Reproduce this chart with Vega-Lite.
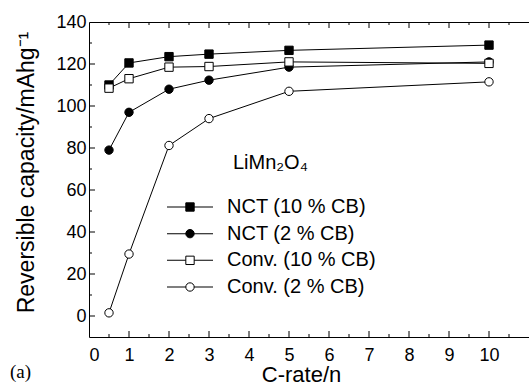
{
  "$schema": "https://vega.github.io/schema/vega-lite/v6.json",
  "width": 440,
  "height": 315,
  "autosize": "none",
  "padding": {"left": 89, "top": 22, "right": 0, "bottom": 47},
  "background": "white",
  "title": {"text": "(a)", "orient": "bottom", "anchor": "start", "frame": "group", "font": "Liberation Serif", "fontSize": 19, "fontWeight": "normal", "color": "#000", "dx": -79, "offset": -22},
  "config": {
    "font": "Liberation Sans",
    "view": {"stroke": "#000", "strokeWidth": 1},
    "axis": {"grid": false, "domain": false, "ticks": false, "labelColor": "#000", "titleColor": "#000", "labelFont": "Liberation Sans", "titleFont": "Liberation Sans", "labelFontSize": 18, "titleFontSize": 22, "titleFontWeight": "normal"}
  },
  "datasets": {
    "xticks": [
      {"v": 1, "kind": "major"}, {"v": 2, "kind": "major"}, {"v": 3, "kind": "major"}, {"v": 4, "kind": "major"}, {"v": 5, "kind": "major"},
      {"v": 6, "kind": "major"}, {"v": 7, "kind": "major"}, {"v": 8, "kind": "major"}, {"v": 9, "kind": "major"}, {"v": 10, "kind": "major"},
      {"v": 0.5, "kind": "minor"}, {"v": 1.5, "kind": "minor"}, {"v": 2.5, "kind": "minor"}, {"v": 3.5, "kind": "minor"}, {"v": 4.5, "kind": "minor"},
      {"v": 5.5, "kind": "minor"}, {"v": 6.5, "kind": "minor"}, {"v": 7.5, "kind": "minor"}, {"v": 8.5, "kind": "minor"}, {"v": 9.5, "kind": "minor"}, {"v": 10.5, "kind": "minor"}
    ],
    "yticks": [
      {"v": 0, "kind": "major"}, {"v": 20, "kind": "major"}, {"v": 40, "kind": "major"}, {"v": 60, "kind": "major"},
      {"v": 80, "kind": "major"}, {"v": 100, "kind": "major"}, {"v": 120, "kind": "major"},
      {"v": 10, "kind": "minor"}, {"v": 30, "kind": "minor"}, {"v": 50, "kind": "minor"}, {"v": 70, "kind": "minor"},
      {"v": 90, "kind": "minor"}, {"v": 110, "kind": "minor"}, {"v": 130, "kind": "minor"}
    ]
  },
  "data": {"values": [
    {"series": "NCT (10 % CB)", "rate": 0.5, "capacity": 110},
    {"series": "NCT (10 % CB)", "rate": 1, "capacity": 120.5},
    {"series": "NCT (10 % CB)", "rate": 2, "capacity": 123.5},
    {"series": "NCT (10 % CB)", "rate": 3, "capacity": 124.7},
    {"series": "NCT (10 % CB)", "rate": 5, "capacity": 126.5},
    {"series": "NCT (10 % CB)", "rate": 10, "capacity": 129},
    {"series": "NCT (2 % CB)", "rate": 0.5, "capacity": 79},
    {"series": "NCT (2 % CB)", "rate": 1, "capacity": 97},
    {"series": "NCT (2 % CB)", "rate": 2, "capacity": 108},
    {"series": "NCT (2 % CB)", "rate": 3, "capacity": 112.3},
    {"series": "NCT (2 % CB)", "rate": 5, "capacity": 118.5},
    {"series": "NCT (2 % CB)", "rate": 10, "capacity": 121},
    {"series": "Conv. (10 % CB)", "rate": 0.5, "capacity": 108.5},
    {"series": "Conv. (10 % CB)", "rate": 1, "capacity": 113},
    {"series": "Conv. (10 % CB)", "rate": 2, "capacity": 118.5},
    {"series": "Conv. (10 % CB)", "rate": 3, "capacity": 118.8},
    {"series": "Conv. (10 % CB)", "rate": 5, "capacity": 121},
    {"series": "Conv. (10 % CB)", "rate": 10, "capacity": 120.3},
    {"series": "Conv. (2 % CB)", "rate": 0.5, "capacity": 1.5},
    {"series": "Conv. (2 % CB)", "rate": 1, "capacity": 29.5},
    {"series": "Conv. (2 % CB)", "rate": 2, "capacity": 81.2},
    {"series": "Conv. (2 % CB)", "rate": 3, "capacity": 94},
    {"series": "Conv. (2 % CB)", "rate": 5, "capacity": 107},
    {"series": "Conv. (2 % CB)", "rate": 10, "capacity": 111.5}
  ]},
  "layer": [
    {
      "mark": {"type": "line", "stroke": "#000", "strokeWidth": 1},
      "encoding": {
        "x": {"field": "rate", "type": "quantitative", "scale": {"domain": [0, 11], "nice": false, "zero": false},
              "axis": {"orient": "bottom", "values": [0,1,2,3,4,5,6,7,8,9,10], "labelPadding": 9, "title": "C-rate/n", "titleX": 212, "titleY": 44, "titleBaseline": "alphabetic", "titleAlign": "center", "titleFontSize": 22}},
        "y": {"field": "capacity", "type": "quantitative", "scale": {"domain": [-10, 140], "nice": false, "zero": false},
              "axis": {"orient": "left", "values": [0,20,40,60,80,100,120,140], "labelPadding": 3, "title": "Reversible capacity/mAhg⁻¹", "titleX": -63, "titleY": 150, "titleAngle": -90, "titleAlign": "center", "titleBaseline": "middle", "titleFontSize": 23}},
        "detail": {"field": "series"}
      }
    },
    {
      "mark": {"type": "point", "filled": true, "size": 70, "stroke": "#000", "strokeWidth": 1, "opacity": 1},
      "encoding": {
        "x": {"field": "rate", "type": "quantitative", "axis": null},
        "y": {"field": "capacity", "type": "quantitative", "scale": {"domain": [-10, 140], "nice": false, "zero": false}, "axis": null},
        "shape": {"field": "series", "type": "nominal", "scale": {"domain": ["NCT (10 % CB)", "NCT (2 % CB)", "Conv. (10 % CB)", "Conv. (2 % CB)"], "range": ["square", "circle", "square", "circle"]}, "legend": null},
        "fill": {"field": "series", "type": "nominal", "scale": {"domain": ["NCT (10 % CB)", "NCT (2 % CB)", "Conv. (10 % CB)", "Conv. (2 % CB)"], "range": ["#000", "#000", "#fff", "#fff"]}, "legend": null}
      }
    },
    {
      "data": {"values": [{"label": "LiMn₂O₄"}]},
      "mark": {"type": "text", "align": "left", "baseline": "middle", "fontSize": 20, "font": "Liberation Sans", "color": "#000"},
      "encoding": {
        "x": {"datum": 3.6, "type": "quantitative", "axis": null},
        "y": {"datum": 73, "type": "quantitative", "scale": {"domain": [-10, 140], "nice": false, "zero": false}, "axis": null},
        "text": {"field": "label"}
      }
    },
    {
      "transform": [{"filter": "datum.rate == 10"}],
      "mark": {"type": "tick", "orient": "horizontal", "size": 46, "thickness": 1, "color": "#000", "opacity": 1},
      "encoding": {
        "x": {"datum": 2.525, "type": "quantitative", "axis": null},
        "y": {"field": "series", "type": "nominal", "scale": {"type": "point", "domain": ["NCT (10 % CB)", "NCT (2 % CB)", "Conv. (10 % CB)", "Conv. (2 % CB)"], "range": [185, 265], "padding": 0}, "axis": null}
      }
    },
    {
      "transform": [{"filter": "datum.rate == 10"}],
      "mark": {"type": "point", "filled": true, "size": 70, "stroke": "#000", "strokeWidth": 1, "opacity": 1},
      "encoding": {
        "x": {"datum": 2.525, "type": "quantitative", "axis": null},
        "y": {"field": "series", "type": "nominal", "scale": {"type": "point", "domain": ["NCT (10 % CB)", "NCT (2 % CB)", "Conv. (10 % CB)", "Conv. (2 % CB)"], "range": [185, 265], "padding": 0}, "axis": null},
        "shape": {"field": "series", "type": "nominal", "legend": null},
        "fill": {"field": "series", "type": "nominal", "legend": null}
      }
    },
    {
      "transform": [{"filter": "datum.rate == 10"}],
      "mark": {"type": "text", "align": "left", "baseline": "middle", "fontSize": 20, "font": "Liberation Sans", "color": "#000"},
      "encoding": {
        "x": {"datum": 3.45, "type": "quantitative", "axis": null},
        "y": {"field": "series", "type": "nominal", "scale": {"type": "point", "domain": ["NCT (10 % CB)", "NCT (2 % CB)", "Conv. (10 % CB)", "Conv. (2 % CB)"], "range": [185, 265], "padding": 0}, "axis": null},
        "text": {"field": "series"}
      }
    },
    {
      "data": {"name": "xticks"},
      "transform": [{"filter": "datum.kind == 'major'"}],
      "mark": {"type": "tick", "orient": "vertical", "size": 6, "thickness": 1, "yOffset": -3, "color": "#000", "opacity": 1},
      "encoding": {
        "x": {"field": "v", "type": "quantitative", "axis": null},
        "y": {"datum": -10, "type": "quantitative", "scale": {"domain": [-10, 140], "nice": false, "zero": false}, "axis": null}
      }
    },
    {
      "data": {"name": "xticks"},
      "transform": [{"filter": "datum.kind == 'minor'"}],
      "mark": {"type": "tick", "orient": "vertical", "size": 3, "thickness": 1, "yOffset": -1.5, "color": "#000", "opacity": 1},
      "encoding": {
        "x": {"field": "v", "type": "quantitative", "axis": null},
        "y": {"datum": -10, "type": "quantitative", "scale": {"domain": [-10, 140], "nice": false, "zero": false}, "axis": null}
      }
    },
    {
      "data": {"name": "xticks"},
      "transform": [{"filter": "datum.kind == 'major'"}],
      "mark": {"type": "tick", "orient": "vertical", "size": 6, "thickness": 1, "yOffset": 3, "color": "#000", "opacity": 1},
      "encoding": {
        "x": {"field": "v", "type": "quantitative", "axis": null},
        "y": {"datum": 140, "type": "quantitative", "scale": {"domain": [-10, 140], "nice": false, "zero": false}, "axis": null}
      }
    },
    {
      "data": {"name": "xticks"},
      "transform": [{"filter": "datum.kind == 'minor'"}],
      "mark": {"type": "tick", "orient": "vertical", "size": 3, "thickness": 1, "yOffset": 1.5, "color": "#000", "opacity": 1},
      "encoding": {
        "x": {"field": "v", "type": "quantitative", "axis": null},
        "y": {"datum": 140, "type": "quantitative", "scale": {"domain": [-10, 140], "nice": false, "zero": false}, "axis": null}
      }
    },
    {
      "data": {"name": "yticks"},
      "transform": [{"filter": "datum.kind == 'major'"}],
      "mark": {"type": "tick", "orient": "horizontal", "size": 6, "thickness": 1, "xOffset": 3, "color": "#000", "opacity": 1},
      "encoding": {
        "x": {"datum": 0, "type": "quantitative", "axis": null},
        "y": {"field": "v", "type": "quantitative", "scale": {"domain": [-10, 140], "nice": false, "zero": false}, "axis": null}
      }
    },
    {
      "data": {"name": "yticks"},
      "transform": [{"filter": "datum.kind == 'minor'"}],
      "mark": {"type": "tick", "orient": "horizontal", "size": 3, "thickness": 1, "xOffset": 1.5, "color": "#000", "opacity": 1},
      "encoding": {
        "x": {"datum": 0, "type": "quantitative", "axis": null},
        "y": {"field": "v", "type": "quantitative", "scale": {"domain": [-10, 140], "nice": false, "zero": false}, "axis": null}
      }
    }
  ],
  "resolve": {"scale": {"y": "independent"}, "axis": {"x": "independent", "y": "independent"}}
}
